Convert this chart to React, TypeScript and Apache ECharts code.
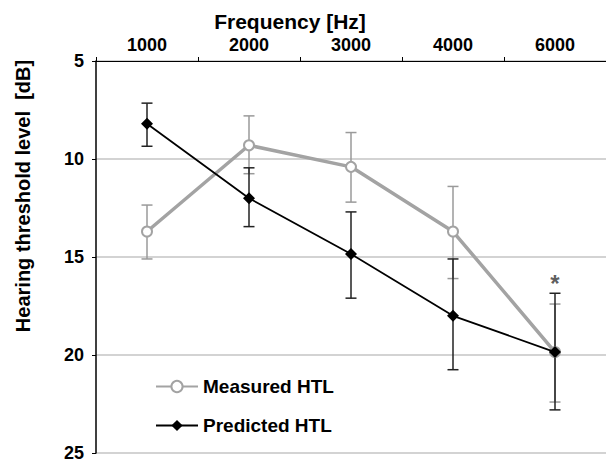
import React, { useEffect, useRef } from "react";
import * as echarts from "echarts";

const categories = ["1000", "2000", "3000", "4000", "6000"];
const measured = [13.7, 9.3, 10.4, 13.7, 19.85];
const measuredLow = [12.35, 7.8, 8.65, 11.4, 17.4];
const measuredHigh = [15.1, 10.75, 12.2, 16.1, 22.4];
const predicted = [8.2, 12.0, 14.85, 18.0, 19.85];
const predictedLow = [7.15, 10.45, 12.7, 15.1, 16.85];
const predictedHigh = [9.35, 13.45, 17.1, 20.75, 22.8];
const yTicks = [5, 10, 15, 20, 25];
const starCategory = "6000";

const FONT = "'Liberation Sans', Arial, sans-serif";

function errorSeries(low: number[], high: number[], color: string) {
  return {
    type: "custom",
    silent: true,
    data: low.map((l, i) => [i, l, high[i]]),
    encode: { x: 0, y: [1, 2] },
    renderItem: (params: any, api: any) => {
      const i = api.value(0);
      const a = api.coord([i, api.value(1)]);
      const b = api.coord([i, api.value(2)]);
      const half = 5.5;
      const style = { stroke: color, lineWidth: 1.5, fill: "none" };
      return {
        type: "group",
        children: [
          { type: "line", shape: { x1: a[0], y1: a[1], x2: b[0], y2: b[1] }, style },
          { type: "line", shape: { x1: a[0] - half, y1: a[1], x2: a[0] + half, y2: a[1] }, style },
          { type: "line", shape: { x1: b[0] - half, y1: b[1], x2: b[0] + half, y2: b[1] }, style },
        ],
      };
    },
    z: 2,
  };
}

export default function App() {
  const ref = useRef<HTMLDivElement>(null);
  useEffect(() => {
    if (!ref.current) return;
    const chart = echarts.init(ref.current, null, { renderer: "svg" });
    const gray = "#a3a3a3";
    chart.setOption({
      animation: false,
      textStyle: { fontFamily: FONT },
      grid: { left: 96, top: 61, width: 518, height: 392 },
      graphic: [
        {
          type: "text",
          x: 290,
          y: 21,
          style: {
            text: "Frequency [Hz]",
            font: `bold 21px ${FONT}`,
            fill: "#000",
            textAlign: "center",
            textVerticalAlign: "middle",
          },
        },
        {
          type: "text",
          x: 23,
          y: 196,
          rotation: Math.PI / 2,
          style: {
            text: "Hearing threshold level  [dB]",
            font: `bold 20px ${FONT}`,
            fill: "#000",
            textAlign: "center",
            textVerticalAlign: "middle",
          },
        },
      ],
      legend: {
        orient: "vertical",
        left: 150,
        top: 372,
        itemWidth: 42,
        itemHeight: 14,
        itemGap: 20,
        data: ["Measured HTL", "Predicted HTL"],
        textStyle: { fontFamily: FONT, fontWeight: "bold", fontSize: 19, color: "#000" },
      },
      xAxis: {
        type: "category",
        position: "top",
        data: categories,
        boundaryGap: true,
        axisLine: { lineStyle: { color: "#000", width: 1 } },
        axisTick: { show: true, length: 4, lineStyle: { color: "#000" } },
        axisLabel: { fontFamily: FONT, fontWeight: "bold", fontSize: 18, color: "#000", margin: 7 },
        splitLine: { show: false },
      },
      yAxis: {
        type: "value",
        inverse: true,
        min: yTicks[0],
        max: yTicks[yTicks.length - 1],
        interval: 5,
        axisLine: { show: true, lineStyle: { color: "#000", width: 1.5 } },
        axisTick: { show: true, length: 4, lineStyle: { color: "#000" } },
        axisLabel: { fontFamily: FONT, fontWeight: "bold", fontSize: 18, color: "#000", margin: 12 },
        splitLine: { show: true, lineStyle: { color: "#c4c4c4", width: 1.5 } },
      },
      series: [
        errorSeries(measuredLow, measuredHigh, "#9a9a9a"),
        {
          name: "Measured HTL",
          type: "line",
          data: measured,
          symbol: "circle",
          symbolSize: 10,
          lineStyle: { color: gray, width: 3.5 },
          itemStyle: { color: "#fff", borderColor: gray, borderWidth: 2 },
          z: 3,
        },
        errorSeries(predictedLow, predictedHigh, "#222"),
        {
          name: "Predicted HTL",
          type: "line",
          data: predicted,
          symbol: "diamond",
          symbolSize: 12,
          lineStyle: { color: "#000", width: 1.8 },
          itemStyle: { color: "#000" },
          z: 5,
        },
        {
          type: "scatter",
          silent: true,
          symbolSize: 0,
          data: [[starCategory, predictedLow[4]]],
          label: {
            show: true,
            position: "top",
            distance: -2,
            formatter: "*",
            fontFamily: FONT,
            fontWeight: "bold",
            fontSize: 24,
            color: "#333",
          },
          z: 6,
        },
      ],
    });
    return () => chart.dispose();
  }, []);
  return <div ref={ref} style={{ width: 606, height: 462, position: "absolute", left: 0, top: 0 }} />;
}
